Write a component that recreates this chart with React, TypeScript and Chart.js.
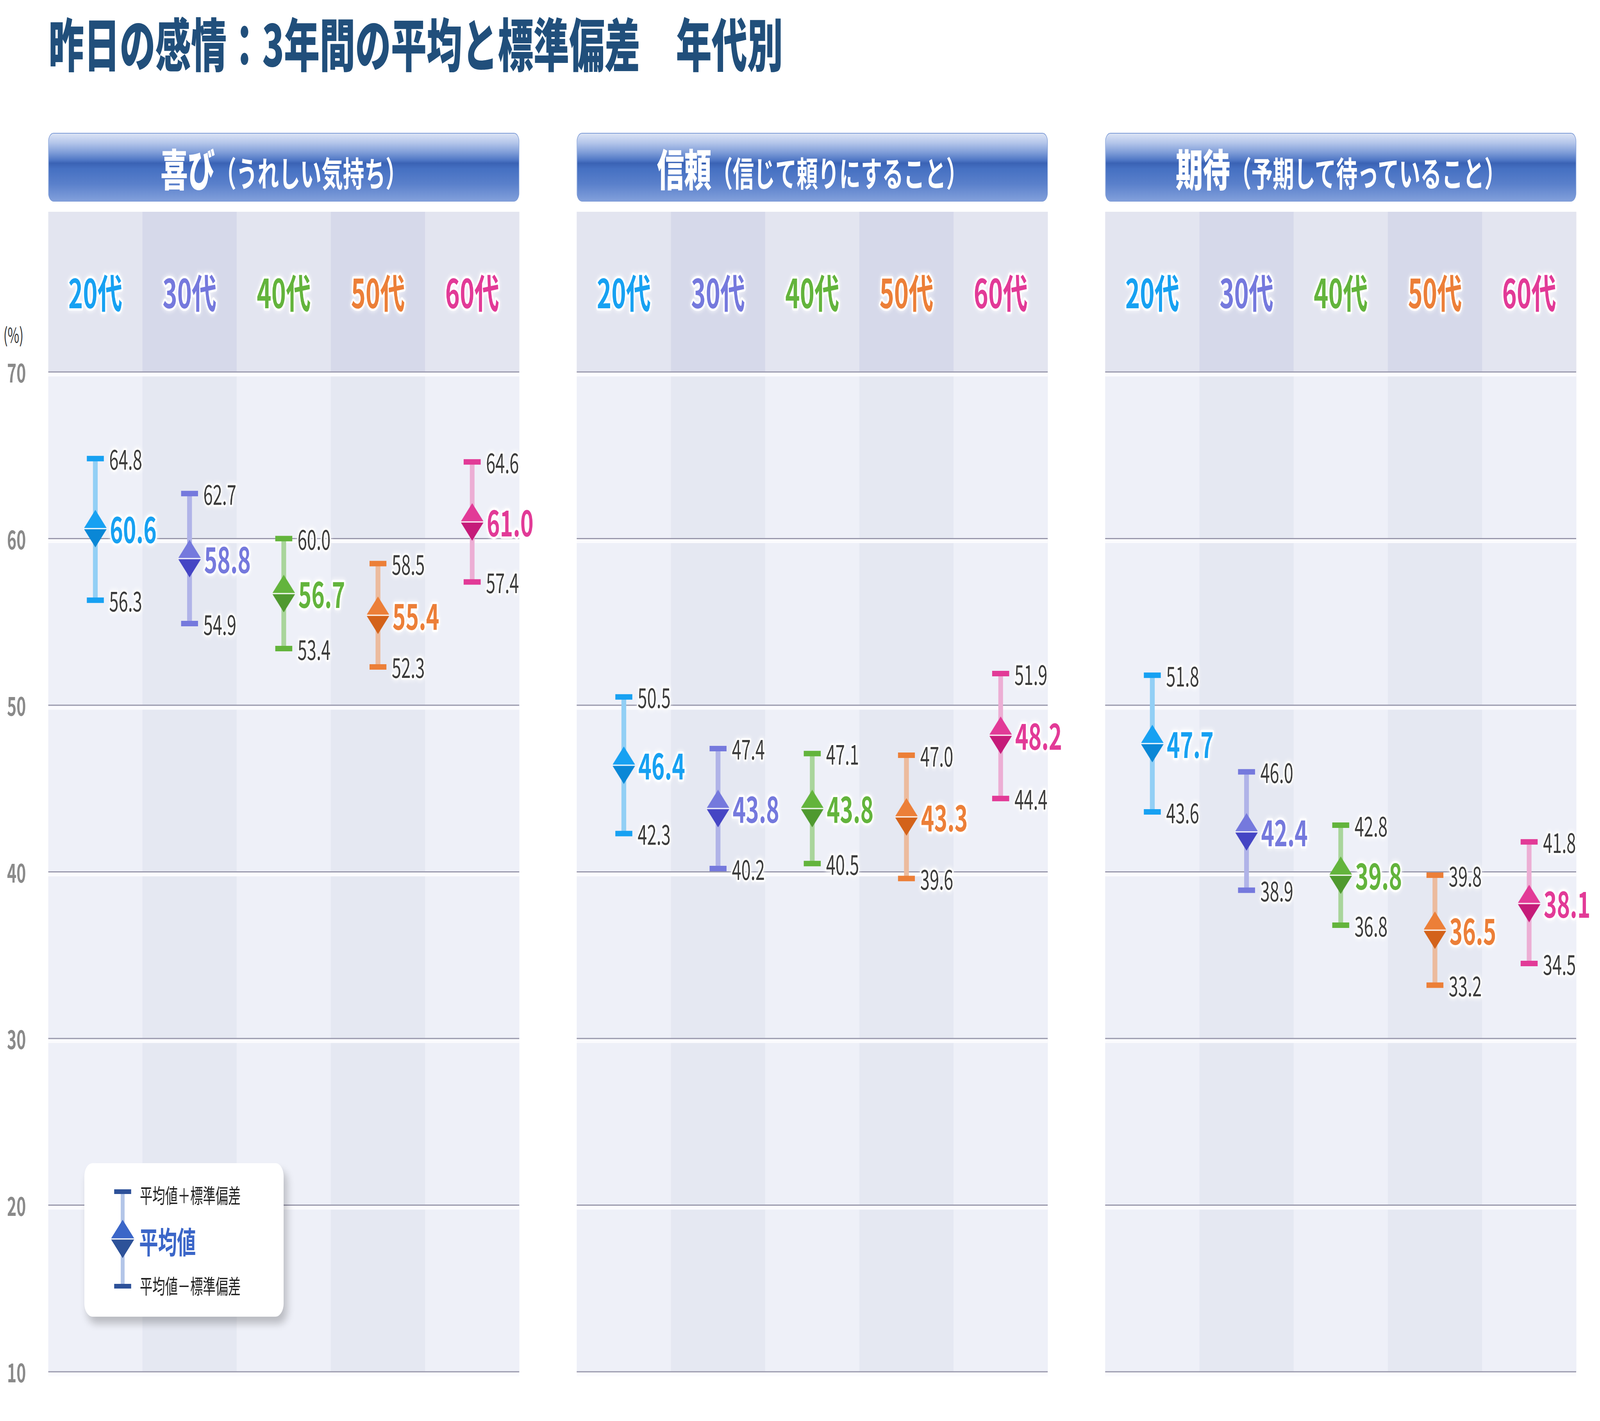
import React, { useEffect, useRef } from "react";
import { Chart, registerables } from "chart.js";

Chart.register(...registerables);

// ---------- data ----------
const TITLE = "昨日の感情：3年間の平均と標準偏差　年代別";
const AGE_GROUPS = ["20代", "30代", "40代", "50代", "60代"];
const PANEL_TITLES = ["喜び", "信頼", "期待"];
const PANEL_SUBTITLES = ["（うれしい気持ち）", "（信じて頼りにすること）", "（予期して待っていること）"];

const JOY_MEAN = [60.6, 58.8, 56.7, 55.4, 61.0];
const JOY_UPPER = [64.8, 62.7, 60.0, 58.5, 64.6];
const JOY_LOWER = [56.3, 54.9, 53.4, 52.3, 57.4];

const TRUST_MEAN = [46.4, 43.8, 43.8, 43.3, 48.2];
const TRUST_UPPER = [50.5, 47.4, 47.1, 47.0, 51.9];
const TRUST_LOWER = [42.3, 40.2, 40.5, 39.6, 44.4];

const ANTIC_MEAN = [47.7, 42.4, 39.8, 36.5, 38.1];
const ANTIC_UPPER = [51.8, 46.0, 42.8, 39.8, 41.8];
const ANTIC_LOWER = [43.6, 38.9, 36.8, 33.2, 34.5];

const Y_MIN = 10;
const Y_MAX = 70;
const Y_STEP = 10;
const Y_UNIT = "(%)";

const LEGEND_UPPER = "平均値＋標準偏差";
const LEGEND_MEAN = "平均値";
const LEGEND_LOWER = "平均値－標準偏差";

// ---------- styles ----------
const MAIN_COLORS = ["#17a1f2", "#7579dd", "#63b43c", "#ec7f38", "#e23a97"];
const DARK_COLORS = ["#0a87d6", "#4545c4", "#4f992f", "#d3621a", "#c51b79"];
const LIGHT_COLORS = ["#92cff5", "#b0b3e8", "#a9d59b", "#ecbb9e", "#ecaed4"];

const FONT = '"Noto Sans CJK JP", "Noto Sans", sans-serif';
const PAGE_W = 6600;
const PAGE_H = 3637;
const PANEL_LEFTS = [199, 2379, 4559];
const PANEL_WIDTH = 1943;
const AXIS_W = 199;
const RIGHT_PAD = 260;
const BAND_TOP = 542;
const BAND_H = 410;
const PLOT_H = 2559;
const BOTTOM_PAD = 60;

function makeDiamond(top: string, bottom: string, w = 96, h = 96) {
  const c = document.createElement("canvas");
  c.width = w;
  c.height = h;
  const g = c.getContext("2d")!;
  g.fillStyle = top;
  g.beginPath();
  g.moveTo(w / 2, 0);
  g.lineTo(w, h / 2);
  g.lineTo(0, h / 2);
  g.closePath();
  g.fill();
  g.fillStyle = bottom;
  g.beginPath();
  g.moveTo(0, h / 2);
  g.lineTo(w, h / 2);
  g.lineTo(w / 2, h);
  g.closePath();
  g.fill();
  g.fillStyle = "#ffffff";
  g.fillRect(0, h / 2 - 1.5, w, 3);
  return c;
}

function haloText(
  ctx: CanvasRenderingContext2D,
  text: string,
  x: number,
  y: number,
  font: string,
  color: string,
  align: CanvasTextAlign = "left",
  haloWidth = 10
) {
  ctx.save();
  ctx.font = font;
  ctx.textAlign = align;
  ctx.textBaseline = "middle";
  ctx.lineJoin = "round";
  ctx.shadowColor = "rgba(255,255,255,1)";
  ctx.shadowBlur = 14;
  ctx.strokeStyle = "rgba(255,255,255,0.95)";
  ctx.lineWidth = haloWidth;
  ctx.strokeText(text, x, y);
  ctx.shadowBlur = 0;
  ctx.shadowColor = "transparent";
  ctx.fillStyle = color;
  ctx.fillText(text, x, y);
  ctx.restore();
}

const backgroundPlugin = {
  id: "panelBackground",
  beforeDraw(chart: any, _args: any, opts: any) {
    const { ctx, chartArea } = chart;
    const xs = chart.scales.x;
    const ys = chart.scales.y;
    const n = AGE_GROUPS.length;
    const colW = (chartArea.right - chartArea.left) / n;
    ctx.save();
    for (let i = 0; i < n; i++) {
      const x0 = chartArea.left + i * colW;
      ctx.fillStyle = i % 2 === 0 ? "#e3e5f0" : "#d6d9ea";
      ctx.fillRect(x0, chartArea.top - BAND_H, colW + 0.5, BAND_H);
      ctx.fillStyle = i % 2 === 0 ? "#eef0f8" : "#e5e8f2";
      ctx.fillRect(x0, chartArea.top, colW + 0.5, chartArea.bottom - chartArea.top);
    }
    // grid lines with white emboss below, tick labels on the first panel
    ys.ticks.forEach((t: any) => {
      const y = ys.getPixelForValue(t.value);
      ctx.fillStyle = "#fbfbfe";
      ctx.fillRect(chartArea.left, y + 1.5, chartArea.right - chartArea.left, 10);
      ctx.fillStyle = "#9897ab";
      ctx.fillRect(chartArea.left, y - 1.5, chartArea.right - chartArea.left, 3);
      if (opts && opts.showAxis) {
        ctx.font = `bold 66px ${FONT}`;
        ctx.textAlign = "center";
        ctx.textBaseline = "middle";
        ctx.fillStyle = "#8a8a8a";
        ctx.fillText(String(t.label ?? t.value), chartArea.left - 131, y + 2);
      }
    });
    // column labels
    AGE_GROUPS.forEach((lab, i) => {
      const x = xs.getPixelForValue(i);
      haloText(ctx, lab, x, chartArea.top - BAND_H / 2 + 3, `bold 102px ${FONT}`, MAIN_COLORS[i], "center", 12);
    });
    ctx.restore();
  },
};

const valueLabelPlugin = {
  id: "valueLabels",
  afterDatasetsDraw(chart: any) {
    const { ctx } = chart;
    const upperMeta = chart.getDatasetMeta(1);
    const lowerMeta = chart.getDatasetMeta(2);
    const meanMeta = chart.getDatasetMeta(3);
    const upper = chart.data.datasets[1].data as number[];
    const lower = chart.data.datasets[2].data as number[];
    const mean = chart.data.datasets[3].data as number[];
    for (let i = 0; i < mean.length; i++) {
      const u = upperMeta.data[i];
      const l = lowerMeta.data[i];
      const m = meanMeta.data[i];
      haloText(ctx, upper[i].toFixed(1), u.x + 57, u.y + 2, `400 70px ${FONT}`, "#3c3c3c");
      haloText(ctx, lower[i].toFixed(1), l.x + 57, l.y + 2, `400 70px ${FONT}`, "#3c3c3c");
      haloText(ctx, mean[i].toFixed(1), m.x + 60, m.y + 2, `bold 92px ${FONT}`, MAIN_COLORS[i], "left", 12);
    }
  },
};

function PanelChart(props: { idx: number; mean: number[]; upper: number[]; lower: number[]; showAxis: boolean }) {
  const { idx, mean, upper, lower, showAxis } = props;
  const ref = useRef<HTMLCanvasElement>(null);
  useEffect(() => {
    const canvas = ref.current!;
    const diamonds = MAIN_COLORS.map((c, i) => makeDiamond(c, DARK_COLORS[i]));
    const chart = new Chart(canvas, {
      type: "bar",
      data: {
        labels: AGE_GROUPS,
        datasets: [
          {
            type: "bar",
            data: lower.map((l, i) => [l, upper[i]]),
            backgroundColor: LIGHT_COLORS,
            borderWidth: 0,
            barThickness: 19,
            order: 3,
          } as any,
          {
            type: "line",
            data: upper,
            showLine: false,
            pointStyle: "line",
            pointRadius: 35,
            pointBorderWidth: 14,
            pointBorderColor: MAIN_COLORS,
            pointBackgroundColor: MAIN_COLORS,
            order: 2,
          } as any,
          {
            type: "line",
            data: lower,
            showLine: false,
            pointStyle: "line",
            pointRadius: 35,
            pointBorderWidth: 14,
            pointBorderColor: MAIN_COLORS,
            pointBackgroundColor: MAIN_COLORS,
            order: 2,
          } as any,
          {
            type: "line",
            data: mean,
            showLine: false,
            pointStyle: diamonds,
            pointRadius: 48,
            order: 1,
          } as any,
        ],
      },
      options: {
        responsive: false,
        animation: false,
        devicePixelRatio: 1,
        events: [],
        layout: {
          padding: { left: AXIS_W, right: RIGHT_PAD, top: BAND_H, bottom: BOTTOM_PAD },
        },
        plugins: {
          legend: { display: false },
          tooltip: { enabled: false },
          panelBackground: { showAxis },
        },
        scales: {
          x: { display: false, offset: true, grid: { display: false } },
          y: {
            display: false,
            min: Y_MIN,
            max: Y_MAX,
            ticks: { stepSize: Y_STEP },
          },
        },
      } as any,
      plugins: [backgroundPlugin, valueLabelPlugin],
    });
    return () => chart.destroy();
  }, []);
  const left = PANEL_LEFTS[idx] - AXIS_W;
  const w = AXIS_W + PANEL_WIDTH + RIGHT_PAD;
  const h = BAND_H + PLOT_H + BOTTOM_PAD;
  return (
    <canvas
      ref={ref}
      width={w}
      height={h}
      style={{ position: "absolute", left, top: BAND_TOP, width: w, height: h }}
    />
  );
}

function PanelHeader(props: { idx: number }) {
  const { idx } = props;
  return (
    <div
      style={{
        position: "absolute",
        left: PANEL_LEFTS[idx],
        top: 340,
        width: PANEL_WIDTH,
        height: 176,
        boxSizing: "border-box",
        border: "2px solid #7d9bd6",
        borderRadius: 22,
        background:
          "linear-gradient(to bottom, #dbe3f5 0%, #b3c5ea 14%, #7f9dd8 28%, #4d75c4 40%, #3a62b4 44%, #4570c2 52%, #5a80cb 75%, #819fdb 100%)",
        display: "flex",
        alignItems: "center",
        justifyContent: "center",
        color: "#ffffff",
        fontFamily: FONT,
        whiteSpace: "nowrap",
      }}
    >
      <div style={{ display: "flex", alignItems: "baseline", lineHeight: 1 }}>
        <span style={{ fontSize: 112, fontWeight: 900 }}>{PANEL_TITLES[idx]}</span>
        <span style={{ fontSize: 88, fontWeight: 700 }}>{PANEL_SUBTITLES[idx]}</span>
      </div>
    </div>
  );
}

function Legend() {
  const cx = 158;
  return (
    <div
      style={{
        position: "absolute",
        left: 348,
        top: 2977,
        width: 822,
        height: 393,
        background: "#ffffff",
        borderRadius: 34,
        boxShadow: "14px 18px 26px rgba(0,0,0,0.22)",
        fontFamily: FONT,
      }}
    >
      <div style={{ position: "absolute", left: cx - 8, top: 73, width: 16, height: 242, background: "#b3c5e8" }} />
      <div style={{ position: "absolute", left: cx - 35, top: 67, width: 70, height: 12, background: "#2d5199" }} />
      <div style={{ position: "absolute", left: cx - 35, top: 309, width: 70, height: 12, background: "#2d5199" }} />
      <svg style={{ position: "absolute", left: cx - 49, top: 194 - 49 }} width={98} height={98}>
        <polygon points="49,0 98,49 0,49" fill="#3b66c8" />
        <polygon points="0,49 98,49 49,98" fill="#2d5299" />
        <rect x={0} y={47.5} width={98} height={3} fill="#ffffff" />
      </svg>
      <div style={{ position: "absolute", left: 229, top: 81 - 29, fontSize: 52, lineHeight: "58px", color: "#222", whiteSpace: "nowrap" }}>
        {LEGEND_UPPER}
      </div>
      <div style={{ position: "absolute", left: 226, top: 198 - 43, fontSize: 78, lineHeight: "86px", fontWeight: 700, color: "#3b66c8", whiteSpace: "nowrap" }}>
        {LEGEND_MEAN}
      </div>
      <div style={{ position: "absolute", left: 229, top: 313 - 29, fontSize: 52, lineHeight: "58px", color: "#222", whiteSpace: "nowrap" }}>
        {LEGEND_LOWER}
      </div>
    </div>
  );
}

export default function App() {
  useEffect(() => {
    document.body.style.margin = "0";
    document.body.style.overflow = "hidden";
  }, []);
  const vw = typeof window !== "undefined" ? window.innerWidth || PAGE_W : PAGE_W;
  const vh = typeof window !== "undefined" ? window.innerHeight || PAGE_H : PAGE_H;
  const sx = vw / PAGE_W;
  const sy = vh / PAGE_H;
  const means = [JOY_MEAN, TRUST_MEAN, ANTIC_MEAN];
  const uppers = [JOY_UPPER, TRUST_UPPER, ANTIC_UPPER];
  const lowers = [JOY_LOWER, TRUST_LOWER, ANTIC_LOWER];
  return (
    <div
      style={{
        position: "absolute",
        left: 0,
        top: 0,
        width: PAGE_W,
        height: PAGE_H,
        background: "#ffffff",
        overflow: "hidden",
        fontFamily: FONT,
        transform: `scale(${sx}, ${sy})`,
        transformOrigin: "0 0",
      }}
    >
      <div
        style={{
          position: "absolute",
          left: 200,
          top: 32,
          fontSize: 147,
          lineHeight: 1,
          fontWeight: 900,
          color: "#214f7b",
          whiteSpace: "nowrap",
        }}
      >
        {TITLE}
      </div>
      {PANEL_TITLES.map((_, i) => (
        <PanelHeader key={"h" + i} idx={i} />
      ))}
      <div style={{ position: "absolute", left: 14, top: 826, fontSize: 52, lineHeight: "58px", color: "#333", whiteSpace: "nowrap" }}>
        {Y_UNIT}
      </div>
      {PANEL_TITLES.map((_, i) => (
        <PanelChart key={"c" + i} idx={i} mean={means[i]} upper={uppers[i]} lower={lowers[i]} showAxis={i === 0} />
      ))}
      <Legend />
    </div>
  );
}
